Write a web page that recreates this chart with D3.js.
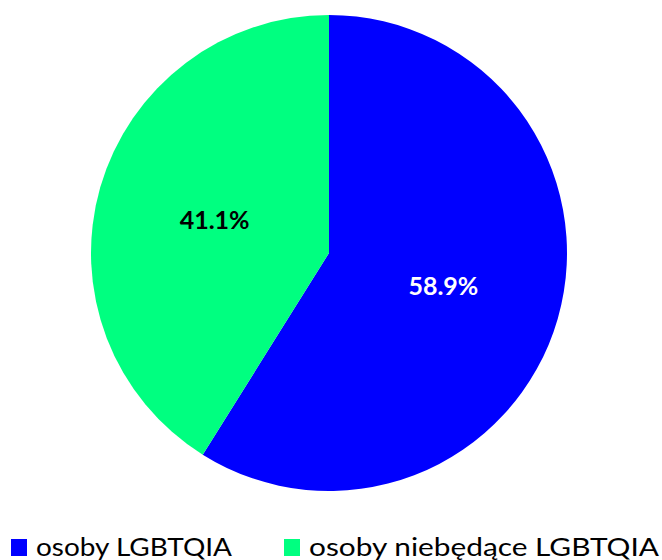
<!DOCTYPE html>
<meta charset="utf-8">
<style>
body { margin: 0; background: #fff; }
text { font-family: "Lato", "DejaVu Sans", sans-serif; }
</style>
<body>
<svg width="662" height="560"></svg>
<script src="https://d3js.org/d3.v7.min.js"></script>
<script>

// chart data
var categories = ["osoby LGBTQIA", "osoby niebędące LGBTQIA"];
var values = [58.9, 41.1];
var colors = ["#0000ff", "#00ff80"];
var labelColors = ["#ffffff", "#000000"];

var svg = d3.select("svg"),
    cx = 329, cy = 253, radius = 238;

var pie = d3.pie().sort(null).value(function(d) { return d; });
var arc = d3.arc().innerRadius(0).outerRadius(radius);
var labelArc = d3.arc().innerRadius(radius / 2).outerRadius(radius / 2);

var g = svg.append("g").attr("transform", "translate(" + cx + "," + cy + ")");

var slices = g.selectAll("g.slice")
    .data(pie(values))
  .enter().append("g")
    .attr("class", "slice");

slices.append("path")
    .attr("d", arc)
    .attr("fill", function(d, i) { return colors[i]; });

slices.append("text")
    .attr("transform", function(d) { return "translate(" + labelArc.centroid(d) + ")"; })
    .attr("text-anchor", "middle")
    .attr("dy", "0.35em")
    .style("font-size", "25px")
    .style("font-weight", "bold")
    .attr("fill", function(d, i) { return labelColors[i]; })
    .text(function(d) { return d.data.toFixed(1) + "%"; });

// legend
var legendX = [11, 284];
var legendW = [196, 350];
var legend = svg.selectAll("g.legend")
    .data(categories)
  .enter().append("g")
    .attr("class", "legend")
    .attr("transform", function(d, i) { return "translate(" + legendX[i] + ",539)"; });

legend.append("rect")
    .attr("width", 16)
    .attr("height", 17)
    .attr("fill", function(d, i) { return colors[i]; });

legend.append("text")
    .attr("x", 25)
    .attr("y", 17)
    .attr("textLength", function(d, i) { return legendW[i]; })
    .attr("lengthAdjust", "spacingAndGlyphs")
    .style("font-size", "25px")
    .attr("fill", "#000")
    .text(function(d) { return d; });

</script>
</body>
